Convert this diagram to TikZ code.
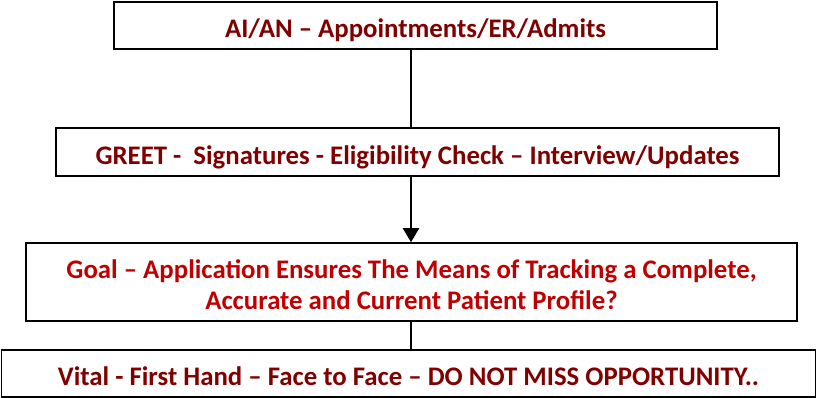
\documentclass[tikz,border=0pt]{standalone}
\usepackage{fontspec}
\setmainfont{Carlito}
\usetikzlibrary{arrows.meta}
\definecolor{maroon}{RGB}{128,0,0}
\definecolor{goalred}{RGB}{192,0,0}
\tikzset{
  x=0.75pt, y=-0.75pt,
  flowbox/.style={draw=black, line width=1.15pt, rectangle, inner sep=0pt,
    align=center, font=\fontsize{20.1}{23.3}\selectfont\bfseries, text=maroon,
    text height=21.5pt, text depth=3pt},
  boxsize/.style 2 args={minimum width={#1*0.75pt}, minimum height={#2*0.75pt}},
  link/.style={draw=black, line width=1.2pt},
  arrowlink/.style={draw=black, line width=1.5pt, -{Triangle[width=12pt,length=10.5pt]}}
}
\begin{document}
\begin{tikzpicture}
  \useasboundingbox (0,0) rectangle (817,398);
  \node[flowbox, boxsize={603}{47}] (top) at (415.5,25.5)
    {AI/AN -- Appointments/ER/Admits};
  \node[flowbox, boxsize={723}{48}] (greet) at (417.5,152)
    {GREET -\ \ Signatures - Eligibility Check -- Interview/Updates};
  \node[flowbox, text=goalred, boxsize={771}{78}, text height=44pt, text depth=2.8pt] (goal) at (411.5,282)
    {Goal -- Application Ensures The Means of Tracking a Complete,\\
     Accurate and Current Patient Profile?};
  \node[flowbox, boxsize={814}{47}] (vital) at (408.5,373.5)
    {Vital - First Hand -- Face to Face -- DO NOT MISS OPPORTUNITY..};
  % vertical spine of the flow
  \coordinate (spine) at (411,0);
  \draw[link] (top.south -| spine) -- (greet.north -| spine);
  \draw[arrowlink] (greet.south -| spine) -- (goal.north -| spine);
  \draw[link] (goal.south -| spine) -- (vital.north -| spine);
\end{tikzpicture}
\end{document}
